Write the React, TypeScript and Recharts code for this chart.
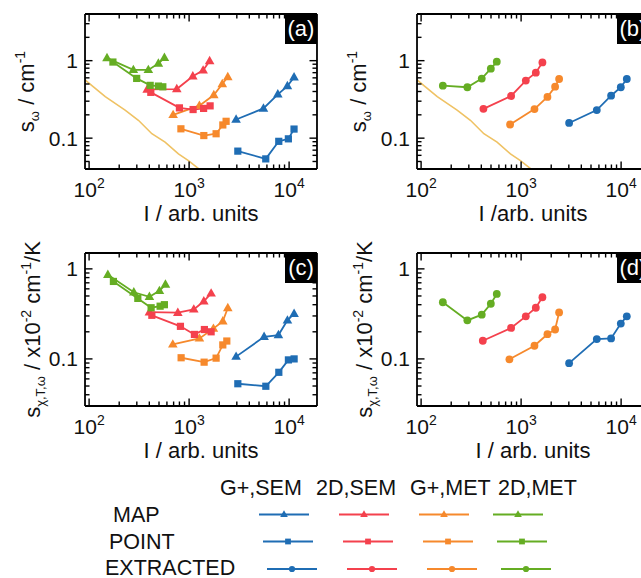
import { LineChart, Line, XAxis, YAxis } from "recharts";

const FONT = '"Liberation Sans", Arial, sans-serif';

const groups = ["G+,SEM", "2D,SEM", "G+,MET", "2D,MET"];
const methods = ["MAP", "POINT", "EXTRACTED"];
const groupColors = ["#1f6db4", "#f4414d", "#f6892c", "#65ad23"];
const guideColor = "#efc264";

const xMajor = [100, 1000, 10000];
const xExponents = ["2", "3", "4"];
const xMinor = [200, 300, 400, 500, 600, 700, 800, 900, 2000, 3000, 4000, 5000, 6000, 7000, 8000, 9000];
const yMajor = [0.1, 1];
const yMajorLabels = ["0.1", "1"];
const yMinorOmega = [0.05, 0.06, 0.07, 0.08, 0.09, 0.2, 0.3, 0.4, 0.5, 0.6, 0.7, 0.8, 0.9, 2, 3];
const yMinorChi = [0.04, 0.05, 0.06, 0.07, 0.08, 0.09, 0.2, 0.3, 0.4, 0.5, 0.6, 0.7, 0.8, 0.9];

const xDomain = [91, 19000];
const omegaDomain = [0.04, 4];
const chiDomain = [0.03, 1.5];

// [I, s] pairs, one list per group (same order as `groups`)
const omegaMap = [
  [[2950, 0.174], [5540, 0.242], [7710, 0.368], [9610, 0.47], [11200, 0.61]],
  [[381, 0.425], [753, 0.43], [1089, 0.63], [1381, 0.75], [1604, 0.99]],
  [[692, 0.2], [1267, 0.263], [1766, 0.36], [2147, 0.5], [2437, 0.615]],
  [[151, 1.08], [277, 0.76], [391, 0.76], [493, 0.92], [566, 1.09]],
];
const omegaPoint = [
  [[3070, 0.068], [5840, 0.054], [7880, 0.091], [9830, 0.098], [11200, 0.131]],
  [[414, 0.39], [800, 0.246], [1096, 0.234], [1396, 0.242], [1622, 0.261]],
  [[828, 0.132], [1403, 0.108], [1862, 0.114], [2173, 0.148], [2344, 0.165]],
  [[173, 0.96], [299, 0.59], [408, 0.48], [493, 0.47], [546, 0.46]],
];
const omegaExtracted = [
  [[3020, 0.157], [5710, 0.23], [7940, 0.353], [9930, 0.454], [11400, 0.58]],
  [[420, 0.239], [794, 0.35], [1114, 0.553], [1403, 0.7], [1633, 0.95]],
  [[776, 0.15], [1360, 0.237], [1834, 0.34], [2188, 0.462], [2399, 0.58]],
  [[165, 0.476], [290, 0.454], [404, 0.588], [498, 0.787], [571, 0.97]],
];
const chiMap = [
  [[2950, 0.106], [5620, 0.176], [7820, 0.184], [9620, 0.268], [11220, 0.318]],
  [[401, 0.33], [771, 0.326], [1114, 0.355], [1403, 0.437], [1660, 0.535]],
  [[687, 0.145], [1268, 0.169], [1750, 0.217], [2172, 0.262], [2438, 0.368]],
  [[154, 0.86], [280, 0.55], [401, 0.49], [505, 0.57], [580, 0.67]],
];
const chiPoint = [
  [[3070, 0.053], [5850, 0.0497], [7890, 0.071], [9840, 0.0975], [11220, 0.1]],
  [[424, 0.305], [819, 0.23], [1130, 0.187], [1422, 0.212], [1660, 0.2]],
  [[832, 0.103], [1413, 0.092], [1862, 0.102], [2172, 0.143], [2382, 0.158]],
  [[175, 0.725], [307, 0.47], [417, 0.37], [513, 0.385], [566, 0.4]],
];
const chiExtracted = [
  [[3020, 0.0897], [5710, 0.166], [7940, 0.169], [9930, 0.247], [11400, 0.297]],
  [[414, 0.159], [794, 0.221], [1114, 0.297], [1403, 0.37], [1633, 0.484]],
  [[764, 0.099], [1360, 0.14], [1834, 0.188], [2188, 0.212], [2399, 0.328]],
  [[165, 0.426], [290, 0.268], [404, 0.31], [498, 0.41], [571, 0.527]],
];
const omegaGuide = [
  [91, 0.565], [145, 0.343], [229, 0.23], [311, 0.17], [424, 0.114],
  [575, 0.0887], [782, 0.0626], [984, 0.0512], [1288, 0.039],
];

const toRows = (pts) => pts.map(([I, s]) => ({ I, s }));

function Marker({ cx, cy, shape, color, k = 1 }) {
  if (cx == null || cy == null) return null;
  if (shape === 0) {
    const h = 5.2 * k;
    const w = 4.8 * k;
    return (
      <polygon
        points={`${cx},${cy - h} ${cx - w},${cy + h * 0.62} ${cx + w},${cy + h * 0.62}`}
        fill={color}
      />
    );
  }
  if (shape === 1) {
    const a = 3.6 * k;
    return <rect x={cx - a} y={cy - a} width={2 * a} height={2 * a} fill={color} />;
  }
  return <circle cx={cx} cy={cy} r={3.9 * k} fill={color} />;
}

// inward tick mark drawn at a point placed by the chart scales
function TickMark({ cx, cy, dx, dy }) {
  if (cx == null || cy == null) return null;
  const x = Number(cx);
  const y = Number(cy);
  return <path d={`M${x},${y}L${x + dx},${y + dy}`} stroke="#000" strokeWidth={1.4} fill="none" />;
}

function XTick({ x, y, payload }) {
  const i = xMajor.indexOf(payload.value);
  return (
    <text x={x} y={Number(y) + 28} textAnchor="middle" fontSize={21} fontFamily={FONT} fill="#111">
      10<tspan dy={-9} fontSize={14}>{xExponents[i]}</tspan>
    </text>
  );
}

function YTick({ x, y, payload }) {
  const i = yMajor.indexOf(payload.value);
  return (
    <text x={Number(x) - 7} y={y} dy={7.5} textAnchor="end" fontSize={21} fontFamily={FONT} fill="#111">
      {yMajorLabels[i]}
    </text>
  );
}

const omegaTitle = (
  <>
    s<tspan dy={5} fontSize={13}>ω</tspan>
    <tspan dy={-5}> / cm</tspan>
    <tspan dy={-9} fontSize={14}>-1</tspan>
  </>
);

const chiTitle = (
  <>
    s<tspan dy={5} fontSize={13}>χ,T,ω</tspan>
    <tspan dy={-5}> / x10</tspan>
    <tspan dy={-9} fontSize={14}>-2</tspan>
    <tspan dy={9}> cm</tspan>
    <tspan dy={-9} fontSize={14}>-1</tspan>
    <tspan dy={9}>/K</tspan>
  </>
);

const frame = { stroke: "#000", strokeWidth: 1.8 };
const THIN = 0.01;
const MAJOR = 7.5;
const MINOR = 4.5;

function tickSeries(yDomain, yMinor) {
  const [x0, x1] = xDomain;
  const [y0, y1] = yDomain;
  return [
    { rows: xMajor.map((I) => ({ I, s: y0 })), dx: 0, dy: -MAJOR },
    { rows: xMinor.map((I) => ({ I, s: y0 })), dx: 0, dy: -MINOR },
    { rows: xMajor.map((I) => ({ I, s: y1 })), dx: 0, dy: MAJOR },
    { rows: xMinor.map((I) => ({ I, s: y1 })), dx: 0, dy: MINOR },
    { rows: yMajor.map((s) => ({ I: x0, s })), dx: MAJOR, dy: 0 },
    { rows: yMinor.map((s) => ({ I: x0, s })), dx: MINOR, dy: 0 },
    { rows: yMajor.map((s) => ({ I: x1, s })), dx: -MAJOR, dy: 0 },
    { rows: yMinor.map((s) => ({ I: x1, s })), dx: -MINOR, dy: 0 },
  ];
}

function Panel({ left, top, plotHeight, yDomain, yMinor, curves, guide, tag, xTitle, yTitle, yTitleGap }) {
  const W = 330;
  const H = 240;
  const margin = { top: 14, right: 13, left: 85, bottom: H - 14 - plotHeight };
  const xCommon = {
    type: "number",
    scale: "log",
    domain: xDomain,
    allowDataOverflow: true,
    interval: 0,
    height: THIN,
    tickSize: 0,
    tickMargin: 0,
    tickLine: false,
    axisLine: frame,
  };
  const yCommon = {
    type: "number",
    scale: "log",
    domain: yDomain,
    allowDataOverflow: true,
    interval: 0,
    width: THIN,
    tickSize: 0,
    tickMargin: 0,
    tickLine: false,
    axisLine: frame,
  };

  return (
    <div style={{ position: "absolute", left, top }}>
      <LineChart width={W} height={H} margin={margin}>
        <XAxis
          {...xCommon}
          xAxisId="x"
          dataKey="I"
          ticks={xMajor}
          tick={XTick}
          label={(p) => (
            <text
              x={p.viewBox.x + p.viewBox.width / 2}
              y={p.viewBox.y + 52}
              textAnchor="middle"
              fontSize={22}
              fontFamily={FONT}
              fill="#111"
            >
              {xTitle}
            </text>
          )}
        />
        <XAxis {...xCommon} xAxisId="xt" orientation="top" ticks={xMajor} tick={false} />
        <YAxis
          {...yCommon}
          yAxisId="y"
          dataKey="s"
          ticks={yMajor}
          tick={YTick}
          label={(p) => {
            const cx = p.viewBox.x - yTitleGap;
            const cy = p.viewBox.y + p.viewBox.height / 2;
            return (
              <text
                x={cx}
                y={cy}
                transform={`rotate(-90 ${cx} ${cy})`}
                textAnchor="middle"
                fontSize={22}
                fontFamily={FONT}
                fill="#111"
              >
                {yTitle}
              </text>
            );
          }}
        />
        <YAxis {...yCommon} yAxisId="yr" orientation="right" ticks={yMajor} tick={false} />

        {tickSeries(yDomain, yMinor).map((t, i) => (
          <Line
            key={`${tag}-tick-${i}`}
            xAxisId="x"
            yAxisId="y"
            data={t.rows}
            dataKey="s"
            stroke="#ffffff"
            strokeOpacity={0}
            activeDot={false}
            isAnimationActive={false}
            dot={(p) => <TickMark key={`${tag}-t${i}-${p.index}`} cx={p.cx} cy={p.cy} dx={t.dx} dy={t.dy} />}
          />
        ))}

        {guide && (
          <Line
            xAxisId="x"
            yAxisId="y"
            data={toRows(guide)}
            dataKey="s"
            stroke={guideColor}
            strokeWidth={1.6}
            dot={false}
            activeDot={false}
            isAnimationActive={false}
          />
        )}
        {curves.map((c, i) => (
          <Line
            key={`${tag}-${i}`}
            xAxisId="x"
            yAxisId="y"
            data={toRows(c.pts)}
            dataKey="s"
            stroke={groupColors[c.group]}
            strokeWidth={1.8}
            activeDot={false}
            isAnimationActive={false}
            dot={(p) => (
              <Marker key={`${tag}-${i}-${p.index}`} cx={p.cx} cy={p.cy} shape={c.method} color={groupColors[c.group]} />
            )}
          />
        ))}
      </LineChart>
      <div
        style={{
          position: "absolute",
          left: 285,
          top: 14,
          width: 32,
          height: 30,
          background: "#000",
          color: "#fff",
          fontFamily: FONT,
          fontSize: 22,
          lineHeight: "30px",
          textAlign: "center",
        }}
      >
        {tag}
      </div>
    </div>
  );
}

const curvesOf = (sets) =>
  sets.flatMap(({ method, lists }) => lists.map((pts, group) => ({ pts, method, group })));

const legendCols = [259, 339, 419, 493];
const headerX = [220, 316, 410, 498];
const rowLabelX = [113, 109, 105];
const rowBaseline = [522, 549, 575];
const rowLineY = [514.5, 541.5, 569];

function Legend() {
  return (
    <svg width={641} height={578} style={{ position: "absolute", left: 0, top: 0 }}>
      {groups.map((g, i) => (
        <text key={g} x={headerX[i]} y={495} fontSize={21.5} fontFamily={FONT} fill="#111">
          {g}
        </text>
      ))}
      {methods.map((m, r) => (
        <g key={m}>
          <text x={rowLabelX[r]} y={rowBaseline[r]} fontSize={21.5} fontFamily={FONT} fill="#111">
            {m}
          </text>
          {groups.map((g, i) => {
            const x0 = legendCols[i] + 4 * r;
            return (
              <g key={g}>
                <line x1={x0} x2={x0 + 50} y1={rowLineY[r]} y2={rowLineY[r]} stroke={groupColors[i]} strokeWidth={1.8} />
                <Marker cx={x0 + 25} cy={rowLineY[r]} shape={r} color={groupColors[i]} k={0.8} />
              </g>
            );
          })}
        </g>
      ))}
    </svg>
  );
}

export default function App() {
  return (
    <div
      style={{
        position: "absolute",
        left: 0,
        top: 0,
        width: 641,
        height: 578,
        overflow: "hidden",
        background: "#fff",
      }}
    >
      <Legend />
      <Panel
        left={0}
        top={0}
        plotHeight={155}
        yDomain={omegaDomain}
        yMinor={yMinorOmega}
        curves={curvesOf([
          { method: 0, lists: omegaMap },
          { method: 1, lists: omegaPoint },
        ])}
        guide={omegaGuide}
        tag="(a)"
        xTitle="I / arb. units"
        yTitle={omegaTitle}
        yTitleGap={51}
      />
      <Panel
        left={332}
        top={0}
        plotHeight={155}
        yDomain={omegaDomain}
        yMinor={yMinorOmega}
        curves={curvesOf([{ method: 2, lists: omegaExtracted }])}
        guide={omegaGuide}
        tag="(b)"
        xTitle="I /arb. units"
        yTitle={omegaTitle}
        yTitleGap={51}
      />
      <Panel
        left={0}
        top={239}
        plotHeight={153}
        yDomain={chiDomain}
        yMinor={yMinorChi}
        curves={curvesOf([
          { method: 0, lists: chiMap },
          { method: 1, lists: chiPoint },
        ])}
        tag="(c)"
        xTitle="I / arb. units"
        yTitle={chiTitle}
        yTitleGap={45}
      />
      <Panel
        left={332}
        top={239}
        plotHeight={153}
        yDomain={chiDomain}
        yMinor={yMinorChi}
        curves={curvesOf([{ method: 2, lists: chiExtracted }])}
        tag="(d)"
        xTitle="I / arb. units"
        yTitle={chiTitle}
        yTitleGap={45}
      />
    </div>
  );
}
